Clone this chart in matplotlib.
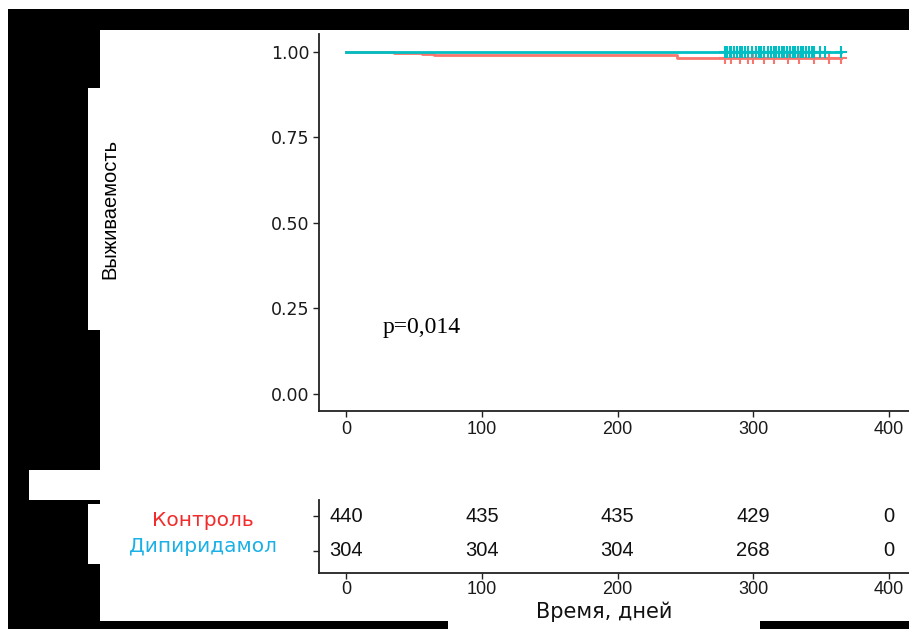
import matplotlib
matplotlib.use("Agg")
import matplotlib.pyplot as plt
from matplotlib.patches import Rectangle

# ---- data -------------------------------------------------------------
groups = ["Контроль", "Дипиридамол"]
curve_colors = ["#F8766D", "#00BFC4"]
label_colors = ["#F22C2C", "#1BB0E6"]

# Kaplan-Meier step curves (time in days, survival)
control_times = [0, 35, 56, 65, 244, 365]
control_surv = [1.0, 0.9955, 0.9932, 0.9886, 0.9818, 0.9818]
dipy_times = [0, 365]
dipy_surv = [1.0, 1.0]

# censoring times
control_censor = [279, 284, 290, 296, 300, 308, 315, 326, 334, 345, 356, 365]
dipy_censor = [279, 281, 283, 284, 286, 288, 290, 292, 294, 296, 299, 302,
               304, 306, 308, 311, 313, 315, 317, 319, 321, 323, 325, 327,
               329, 331, 333, 335, 337, 339, 341, 343, 345, 349, 353, 365]

# number at risk table
risk_times = [0, 100, 200, 300, 400]
control_risk = [440, 435, 435, 429, 0]
dipy_risk = [304, 304, 304, 268, 0]

x_ticks = [0, 100, 200, 300, 400]
y_ticks = [0.00, 0.25, 0.50, 0.75, 1.00]
y_tick_labels = ["0.00", "0.25", "0.50", "0.75", "1.00"]
p_text = "p=0,014"
y_label = "Выживаемость"
x_label = "Время, дней"

# ---- figure -----------------------------------------------------------
W, H = 909, 629
fig = plt.figure(figsize=(W / 100, H / 100), dpi=100)
fig.patch.set_facecolor("white")


def box(x0, y0, x1, y1):
    """Axes rectangle from pixel edges (origin top-left)."""
    return [x0 / W, 1 - y1 / H, (x1 - x0) / W, (y1 - y0) / H]


# black frame around the figure
frame = [
    (8, 9, 909, 30),
    (8, 30, 100, 88),
    (8, 88, 88, 330),
    (8, 330, 100, 470),
    (8, 470, 29, 500),
    (8, 500, 100, 504),
    (8, 504, 88, 564),
    (8, 564, 100, 621),
    (8, 621, 448, 629),
    (760, 621, 909, 629),
]
for x0, y0, x1, y1 in frame:
    fig.patches.append(Rectangle((x0 / W, 1 - y1 / H), (x1 - x0) / W, (y1 - y0) / H,
                                 transform=fig.transFigure, facecolor="black",
                                 edgecolor="none", zorder=0))

x_tick_font = dict(family="Liberation Sans", size=13, color="#1a1a1a")
y_tick_font = dict(family="DejaVu Sans", size=12.5, color="#1a1a1a")
AX_COLOR = "#222222"

# ---- survival curves --------------------------------------------------
ax = fig.add_axes(box(319, 34.4, 916, 411))
ax.set_xlim(-20, 420)
ax.set_ylim(-0.05, 1.05)

ax.step(control_times, control_surv, where="post", color=curve_colors[0], lw=2.0, zorder=2)
ax.step(dipy_times, dipy_surv, where="post", color=curve_colors[1], lw=2.0, zorder=3)


def surv_at(times, surv, t):
    s = surv[0]
    for ti, si in zip(times, surv):
        if ti <= t:
            s = si
    return s


ax.plot(control_censor, [surv_at(control_times, control_surv, t) for t in control_censor],
        ls="none", marker="+", ms=8, mew=1.5, color=curve_colors[0], zorder=2)
ax.plot(dipy_censor, [surv_at(dipy_times, dipy_surv, t) for t in dipy_censor],
        ls="none", marker="+", ms=8, mew=1.5, color=curve_colors[1], zorder=3)

ax.set_xticks(x_ticks)
ax.set_xticklabels([str(t) for t in x_ticks], fontdict=x_tick_font)
ax.set_yticks(y_ticks)
ax.set_yticklabels(y_tick_labels, fontdict=y_tick_font)
for s in ("top", "right"):
    ax.spines[s].set_visible(False)
for s in ("left", "bottom"):
    ax.spines[s].set_color(AX_COLOR)
    ax.spines[s].set_linewidth(1.3)
ax.tick_params(length=4, width=1, color=AX_COLOR, pad=3)

ax.text(27, 0.195, p_text, family="Liberation Serif", fontsize=17, color="black",
        ha="left", va="center")

fig.text(110 / W, 1 - 209 / H, y_label, rotation=90, family="Liberation Sans",
         fontsize=14.5, color="black", ha="center", va="center")

# ---- number at risk table ---------------------------------------------
rax = fig.add_axes(box(319, 500, 916, 573))
rax.set_xlim(-20, 420)
rax.set_ylim(0.37, 2.46)
rows = [control_risk, dipy_risk]
row_y = [2, 1]
for vals, yv in zip(rows, row_y):
    for t, v in zip(risk_times, vals):
        rax.text(t, yv, str(v), ha="center", va="center", family="Liberation Sans",
                 fontsize=14.5, color="#111111")
rax.set_xticks(x_ticks)
rax.set_xticklabels([str(t) for t in x_ticks], fontdict=x_tick_font)
rax.set_yticks(row_y)
rax.set_yticklabels([])
for s in ("top", "right"):
    rax.spines[s].set_visible(False)
for s in ("left", "bottom"):
    rax.spines[s].set_color(AX_COLOR)
    rax.spines[s].set_linewidth(1.3)
rax.tick_params(length=4, width=1, color=AX_COLOR, pad=2)

for name, col, yp in zip(groups, label_colors, [521, 546]):
    fig.text(203 / W, 1 - yp / H, name, family="DejaVu Sans", fontsize=14.5,
             color=col, ha="center", va="center")

fig.text(604 / W, 1 - 612 / H, x_label, family="DejaVu Sans", fontsize=15,
         color="#111111", ha="center", va="center")

fig.savefig("out.png", dpi=100, facecolor="white")
